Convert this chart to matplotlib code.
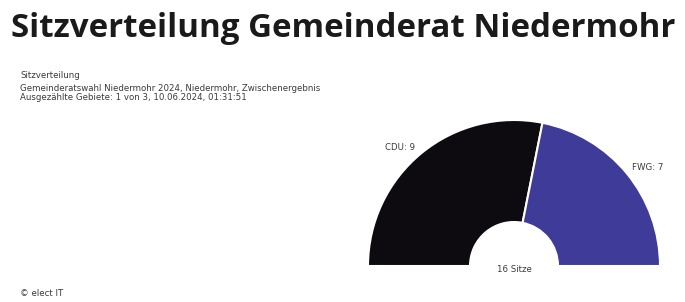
import matplotlib
matplotlib.use("Agg")
import matplotlib.pyplot as plt

title = "Sitzverteilung Gemeinderat Niedermohr"
subtitle_lines = ["Sitzverteilung",
                  "Gemeinderatswahl Niedermohr 2024, Niedermohr, Zwischenergebnis",
                  "Ausgezählte Gebiete: 1 von 3, 10.06.2024, 01:31:51"]
parties = ["CDU", "FWG"]
seats = [9, 7]
colors = ["#0d0a10", "#3f3b98"]
total_label = "16 Sitze"
credit = "© elect IT"

W, H = 685, 302
fig = plt.figure(figsize=(W/100, H/100), dpi=100)
ax = fig.add_axes([0, 0, 1, 1])

total = sum(seats)
cx, cy, R, r = 514, 36, 146, 44
wedges, _ = ax.pie(seats + [total], startangle=180, counterclock=False,
                   radius=R, center=(cx, cy), colors=colors + ["none"],
                   wedgeprops=dict(width=R - r, edgecolor="white", linewidth=1.5),
                   frame=True)
wedges[-1].set_visible(False)
ax.set_xlim(0, W)
ax.set_ylim(0, H)
ax.set_aspect("auto")
ax.axis("off")

t = fig.text(11/W, 1 - 37/H, title, fontsize=23, fontweight="bold",
             family="Open Sans", va="baseline", ha="left", color="#1a1a1a")
fig.canvas.draw()
w = t.get_window_extent().width
t.set_fontsize(23 * 665 / w)

fs = 6.2
tc = "#3a3a3a"
fig.text(20/W, 1 - 75/H, subtitle_lines[0], fontsize=fs, va="center", color=tc)
fig.text(20/W, 1 - 88.5/H, subtitle_lines[1], fontsize=fs, va="center", color=tc)
fig.text(20/W, 1 - 98/H, subtitle_lines[2], fontsize=fs, va="center", color=tc)
fig.text(20/W, 1 - 294/H, credit, fontsize=fs, va="center", color=tc)

ax.text(400, H - 147, f"{parties[0]}: {seats[0]}", fontsize=6.2, ha="center", va="center", color=tc)
ax.text(648, H - 168, f"{parties[1]}: {seats[1]}", fontsize=6.2, ha="center", va="center", color=tc)
ax.text(cx, H - 270, total_label, fontsize=6.2, ha="center", va="center", color=tc)

fig.savefig("out.png", dpi=100, facecolor="white")
